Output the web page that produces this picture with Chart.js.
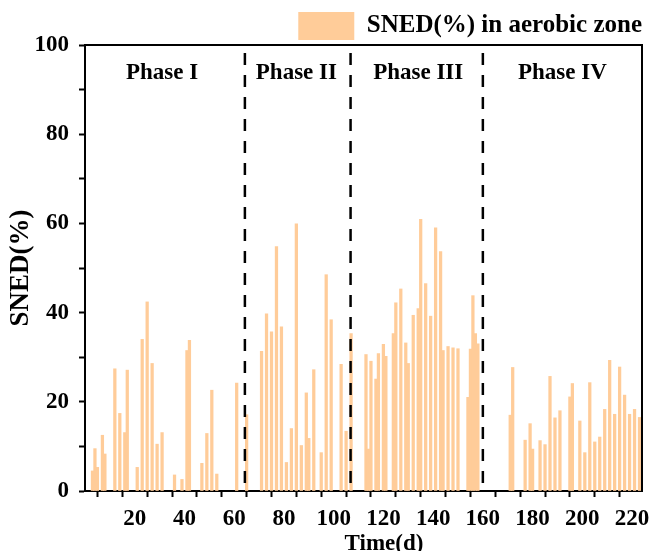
<!DOCTYPE html>
<html>
<head>
<meta charset="utf-8">
<script src="https://cdn.jsdelivr.net/npm/chart.js@4"></script>
<style>
  html, body { margin: 0; padding: 0; background: #fff; }
  #wrap { width: 653px; height: 551px; }
</style>
</head>
<body>
<div id="wrap"><canvas id="myChart" width="653" height="551"></canvas></div>
<script>
// sampling days and SNED values (%)
const days = [3, 4, 5, 7, 8, 12, 14, 16, 17, 21, 23, 25, 27, 29, 31, 36, 39, 41, 42,
    47, 49, 51, 53, 61, 65, 71, 73, 75, 77, 79, 81, 83, 85, 87, 89, 90, 92, 95, 97, 99,
    103, 105, 107, 113, 114, 115, 117, 118, 120, 121, 124, 125, 127, 129, 130, 132,
    134, 135, 137, 139, 141, 143, 144, 146, 148, 150, 154, 155, 156, 157, 158,
    171, 172, 177, 179, 180, 183, 185, 187, 189, 191, 195, 196, 199, 201, 203, 205,
    207, 209, 211, 213, 215, 217, 219, 221, 223];
const sned = [4.5, 9.5, 5.3, 12.5, 8.3, 27.4, 17.4, 13.1, 27.1, 5.3, 34.0, 42.4, 28.6, 10.5, 13.1, 3.6, 2.6, 31.5, 33.8,
    6.2, 12.9, 22.6, 3.8, 24.2, 17.1, 31.3, 39.7, 35.7, 54.8, 36.8, 6.4, 14.0, 59.9, 10.2, 22.0, 11.8, 27.2, 8.6, 48.5, 38.4,
    28.4, 13.4, 35.3, 30.6, 9.4, 29.1, 25.1, 30.8, 32.9, 30.2, 35.3, 42.2, 45.3, 33.2, 28.6, 39.4,
    40.9, 60.9, 46.5, 39.2, 59.0, 53.7, 31.5, 32.4, 32.1, 31.9, 21.0, 31.8, 43.8, 35.3, 33.0,
    17.0, 27.7, 11.4, 15.1, 9.4, 11.3, 10.4, 25.7, 16.4, 18.0, 21.1, 24.1, 15.7, 8.6, 24.3, 11.0,
    12.1, 18.3, 29.3, 17.2, 27.8, 21.5, 17.2, 18.3, 16.5];

const phaseBounds = [64.3, 106.8, 160];
const phaseNames = ['Phase I', 'Phase II', 'Phase III', 'Phase IV'];
const phaseCenters = [31, 85, 134, 192];

const serif = "'Liberation Serif', 'Times New Roman', serif";

// legend reserves a few px more than the original; trim it so the plot starts at the same height
const legendTrim = {
    id: 'legendTrim',
    beforeLayout(chart) {
        const lg = chart.legend;
        if (lg && !lg._trimmed) {
            const fit = lg.fit;
            lg.fit = function () {
                fit.apply(this, arguments);
                this.height -= 5;
            };
            lg._trimmed = true;
        }
    }
};

const phasePlugin = {
    id: 'phases',
    afterDatasetsDraw(chart) {
        const ctx = chart.ctx;
        const x = chart.scales.x;
        const area = chart.chartArea;
        ctx.save();
        ctx.strokeStyle = '#000';
        ctx.lineWidth = 2.5;
        ctx.setLineDash([12, 10]);
        phaseBounds.forEach(function (b) {
            const px = x.getPixelForValue(b);
            ctx.beginPath();
            ctx.moveTo(px, area.top + 8);
            ctx.lineTo(px, area.bottom);
            ctx.stroke();
        });
        ctx.setLineDash([]);
        ctx.fillStyle = '#000';
        ctx.font = 'bold 23px ' + serif;
        ctx.textAlign = 'center';
        ctx.textBaseline = 'middle';
        phaseNames.forEach(function (n, i) {
            ctx.fillText(n, x.getPixelForValue(phaseCenters[i]), area.top + 28);
        });
        // x axis title sits a bit right of centre in the original
        ctx.fillText('Time(d)', 384, 544);
        // closing frame, top and right
        ctx.lineWidth = 2;
        ctx.beginPath();
        ctx.moveTo(area.left, area.top);
        ctx.lineTo(area.right, area.top);
        ctx.lineTo(area.right, area.bottom);
        ctx.stroke();
        ctx.restore();
    }
};

const ctx = document.getElementById('myChart');

new Chart(ctx, {
    type: 'bar',
    data: {
        datasets: [{
            label: 'SNED(%) in aerobic zone',
            data: days.map(function (d, i) { return { x: d, y: sned[i] }; }),
            backgroundColor: '#FFCC99',
            borderWidth: 0,
            barThickness: 2.6
        }]
    },
    options: {
        responsive: false,
        animation: false,
        layout: { padding: { top: 12, right: 11, left: 0, bottom: 0 } },
        plugins: {
            legend: {
                display: true,
                position: 'top',
                align: 'end',
                labels: {
                    boxWidth: 56,
                    boxHeight: 28,
                    padding: 0,
                    color: '#000',
                    font: { family: serif, size: 25, weight: 'bold', lineHeight: 1 }
                }
            },
            tooltip: { enabled: false }
        },
        scales: {
            x: {
                type: 'linear',
                offset: false,
                min: 0,
                max: 224,
                border: { color: '#000', width: 2 },
                grid: { drawOnChartArea: false, drawTicks: true, tickLength: 6, tickWidth: 2, tickColor: '#000' },
                ticks: {
                    stepSize: 10,
                    includeBounds: false,
                    autoSkip: false,
                    maxRotation: 0,
                    padding: 8,
                    color: '#000',
                    font: { family: serif, size: 23, weight: 'bold' },
                    callback: function (v) { return (v % 20 === 0 && v > 0) ? v : ''; }
                },
                title: { display: false },
                afterFit: function (s) {
                    s.height = 60;
                    s.paddingRight = 0;
                    s.paddingLeft = 0;
                }
            },
            y: {
                min: 0,
                max: 100,
                border: { color: '#000', width: 2 },
                grid: { drawOnChartArea: false, drawTicks: true, tickLength: 6, tickWidth: 2, tickColor: '#000' },
                ticks: {
                    stepSize: 10,
                    padding: 10,
                    color: '#000',
                    font: { family: serif, size: 23, weight: 'bold' },
                    callback: function (v) { return v % 20 === 0 ? v : ''; }
                },
                title: {
                    display: true,
                    text: 'SNED(%)',
                    color: '#000',
                    padding: { top: 5, bottom: 0 },
                    font: { family: serif, size: 27, weight: 'bold' }
                },
                afterFit: function (s) { s.width = 85; }
            }
        }
    },
    plugins: [legendTrim, phasePlugin]
});
</script>
</body>
</html>
